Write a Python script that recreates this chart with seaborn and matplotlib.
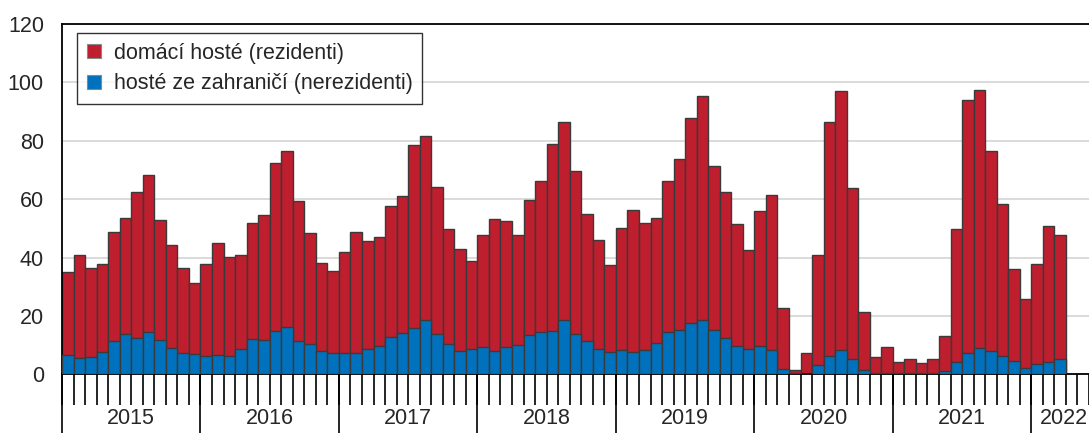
import matplotlib

matplotlib.use("Agg")
import matplotlib.pyplot as plt
import numpy as np
import pandas as pd
import seaborn as sns

# monthly values 2015-01 .. 2022-03 (thousands)
domaci = [
    28.6, 35.3, 30.5, 29.9, 37.3, 39.9, 50.2, 53.9, 41.1, 35.2, 29.1, 24.3,   # 2015
    31.7, 38.2, 33.7, 32.1, 40.0, 43.0, 57.6, 60.4, 47.9, 37.8, 29.9, 28.1,   # 2016
    34.5, 41.2, 37.0, 37.3, 45.1, 47.2, 62.6, 63.0, 50.4, 39.6, 35.1, 30.1,   # 2017
    38.6, 45.2, 43.3, 37.9, 46.3, 51.5, 63.9, 67.8, 55.8, 43.4, 37.3, 30.0,   # 2018
    41.6, 48.8, 43.6, 42.9, 51.7, 58.4, 70.1, 76.5, 56.1, 50.3, 42.0, 33.9,   # 2019
    46.5, 53.1, 20.8, 1.2, 7.1, 37.9, 80.2, 88.5, 58.6, 19.8, 5.4, 8.6,       # 2020
    4.0, 5.0, 3.6, 5.1, 12.0, 45.6, 86.7, 88.3, 68.5, 52.0, 31.6, 23.6,       # 2021
    34.3, 46.6, 42.3,                                                         # 2022
]
zahranici = [
    6.6, 5.5, 5.8, 7.8, 11.5, 13.7, 12.3, 14.4, 11.8, 9.0, 7.4, 7.1,
    6.2, 6.7, 6.4, 8.8, 12.0, 11.6, 14.7, 16.1, 11.5, 10.5, 8.1, 7.4,
    7.4, 7.4, 8.7, 9.6, 12.7, 14.0, 15.8, 18.5, 13.9, 10.3, 7.9, 8.6,
    9.2, 8.1, 9.2, 9.9, 13.4, 14.6, 15.0, 18.5, 13.7, 11.5, 8.8, 7.5,
    8.4, 7.5, 8.4, 10.8, 14.5, 15.2, 17.7, 18.7, 15.1, 12.3, 9.6, 8.8,
    9.6, 8.2, 1.8, 0.3, 0.1, 3.1, 6.2, 8.4, 5.1, 1.6, 0.5, 0.6,
    0.3, 0.3, 0.3, 0.3, 1.0, 4.1, 7.2, 9.0, 8.1, 6.2, 4.5, 2.3,
    3.4, 4.1, 5.3,
]
years = ["2015", "2016", "2017", "2018", "2019", "2020", "2021", "2022"]
labels = ["domácí hosté (rezidenti)", "hosté ze zahraničí (nerezidenti)"]

RED = "#BE1E2D"
BLUE = "#0071BC"
EDGE = "#3a3a3a"
FS = 15.5

df = pd.DataFrame({"domaci": domaci, "zahranici": zahranici})
df["month"] = np.arange(len(df))
df["total"] = df["domaci"] + df["zahranici"]

sns.set_style("white")
plt.rcParams["font.family"] = ["Liberation Sans", "DejaVu Sans"]

fig = plt.figure(figsize=(10.89, 4.33), dpi=100)
ax = fig.add_axes([62 / 1089, 1 - 374.3 / 433, 1 - 62 / 1089, 350.3 / 433])

sns.barplot(data=df, x="month", y="total", color=RED, saturation=1, width=1,
            edgecolor=EDGE, linewidth=1, errorbar=None, label=labels[0], ax=ax,
            zorder=2)
sns.barplot(data=df, x="month", y="zahranici", color=BLUE, saturation=1, width=1,
            edgecolor=EDGE, linewidth=1, errorbar=None, label=labels[1], ax=ax,
            zorder=3)

ax.set_ylim(0, 120)
ax.set_xlim(-0.5, 88.2)
ax.set_yticks(np.arange(0, 121, 20))
ax.tick_params(axis="y", length=0, pad=13, labelsize=FS)
ax.grid(axis="y", color="#d4d4d4", linewidth=1.2, zorder=0)
ax.set_axisbelow(True)
ax.set_xlabel("")
ax.set_ylabel("")

# month tick marks at bar boundaries
ax.set_xticks(np.arange(-0.5, 88.6, 1))
ax.set_xticklabels([])
ax.tick_params(axis="x", bottom=True, length=22, width=1.2, color="black",
               direction="out")

for side in ["left", "top", "bottom"]:
    ax.spines[side].set_visible(True)
    ax.spines[side].set_color("black")
    ax.spines[side].set_linewidth(1.3)
ax.spines["right"].set_visible(False)

# year separators and labels
trans = ax.get_xaxis_transform()
for k, yr in enumerate(years):
    x0 = -0.5 + 12 * k
    ax.plot([x0, x0], [0, -0.18], transform=trans, color="black", lw=1.2,
            clip_on=False)
    xc = x0 + 6 if yr != "2022" else 86.3
    ax.text(xc, -0.125, yr, transform=trans, ha="center", va="center",
            fontsize=FS)

leg = ax.legend(loc="upper left", bbox_to_anchor=(0.0146, 0.974), fontsize=FS,
                frameon=True, fancybox=False, handlelength=0.65, handleheight=0.65,
                handletextpad=0.6, borderpad=0.45, labelspacing=0.45,
                borderaxespad=0)
leg.get_frame().set_edgecolor("black")
leg.get_frame().set_linewidth(1.0)
for h in leg.legend_handles:
    h.set_edgecolor("#888888")
    h.set_linewidth(0.8)

fig.savefig("out.png", dpi=100)
